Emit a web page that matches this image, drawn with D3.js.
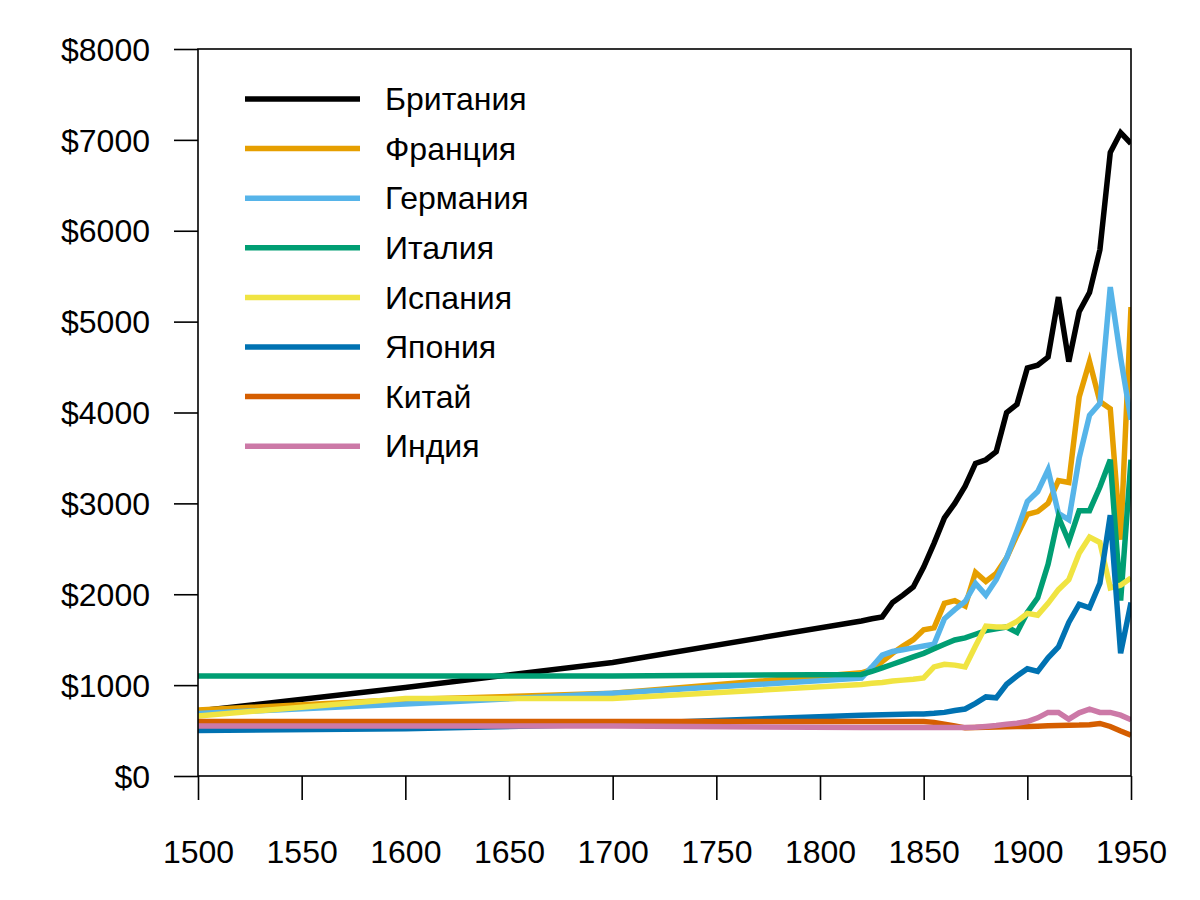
<!DOCTYPE html>
<html>
<head>
<meta charset="utf-8">
<script src="https://cdn.jsdelivr.net/npm/d3@7"></script>
<style>
  body { margin: 0; background: #fff; }
  text { font-family: "Liberation Sans", Arial, sans-serif; fill: #000; }
</style>
</head>
<body>
<svg id="chart" width="1200" height="900"></svg>
<script>
var years = [1500, 1600, 1700, 1820, 1825, 1830, 1835, 1840, 1845, 1850, 1855, 1860, 1865, 1870, 1875,
  1880, 1885, 1890, 1895, 1900, 1905, 1910, 1915, 1920, 1925, 1930, 1935, 1940, 1945, 1950]

var britain = [714, 974, 1250, 1706, 1730, 1750, 1910, 1990, 2080, 2300, 2560, 2840, 3000, 3190, 3440,
  3480, 3570, 4000, 4090, 4490, 4520, 4610, 5270, 4560, 5110, 5320, 5790, 6860, 7080, 6960]
var france = [727, 841, 910, 1135, 1170, 1260, 1350, 1430, 1500, 1610, 1630, 1900, 1930, 1870, 2240,
  2140, 2230, 2400, 2650, 2880, 2910, 3000, 3250, 3230, 4170, 4560, 4120, 4040, 2600, 5160]
var germany = [688, 791, 910, 1077, 1200, 1330, 1370, 1390, 1410, 1430, 1450, 1730, 1830, 1920, 2120,
  1990, 2160, 2400, 2700, 3020, 3130, 3370, 2890, 2820, 3500, 3970, 4100, 5380, 4600, 3920]
var italy = [1100, 1100, 1100, 1117, 1150, 1190, 1230, 1270, 1310, 1350, 1400, 1450, 1497, 1520, 1560,
  1600, 1620, 1640, 1580, 1800, 1960, 2330, 2850, 2580, 2920, 2920, 3180, 3480, 1930, 3480]
var spain = [661, 853, 853, 1008, 1020, 1030, 1045, 1055, 1065, 1079, 1200, 1230, 1220, 1200, 1430,
  1650, 1640, 1640, 1700, 1790, 1770, 1900, 2050, 2160, 2450, 2630, 2570, 2070, 2100, 2180]
var japan = [500, 520, 570, 669, 672, 675, 677, 679, 681, 683, 690, 700, 720, 737, 800,
  870, 860, 1010, 1100, 1180, 1150, 1300, 1420, 1690, 1890, 1850, 2120, 2870, 1350, 1910]
var china = [600, 600, 600, 600, 600, 600, 600, 600, 600, 600, 590, 570, 550, 530, 533,
  536, 539, 542, 544, 545, 548, 552, 555, 558, 560, 565, 578, 545, 495, 448]
var india = [550, 550, 550, 533, 533, 533, 533, 533, 533, 533, 533, 533, 533, 533, 537,
  545, 555, 570, 580, 599, 640, 700, 700, 625, 695, 735, 700, 700, 670, 620]

var names = ['Британия', 'Франция', 'Германия', 'Италия', 'Испания', 'Япония', 'Китай', 'Индия']
var colors = ['#000000', '#E69F00', '#56B4E9', '#009E73', '#F0E442', '#0072B2', '#D55E00', '#CC79A7']
var seriesValues = [britain, france, germany, italy, spain, japan, china, india]

var xTicks = [1500, 1550, 1600, 1650, 1700, 1750, 1800, 1850, 1900, 1950]
var yTicks = [0, 1000, 2000, 3000, 4000, 5000, 6000, 7000, 8000]

var svg = d3.select('#chart')
var m = {left: 198, right: 1131, top: 49, bottom: 776}

var x = d3.scaleLinear().domain([1500, 1950]).range([m.left, m.right])
var y = d3.scaleLinear().domain([0, 8000]).range([m.bottom, m.top])

var series = names.map((n, i) => ({
  name: n,
  color: colors[i],
  points: years.map((yr, j) => ({year: yr, value: seriesValues[i][j]}))
}))

/*
    axes
*/
var yAxis = svg.append('g')
  .attr('transform', `translate(${m.left},0)`)
  .call(d3.axisLeft(y).tickValues(yTicks).tickSize(24).tickPadding(24).tickFormat(d => '$' + d))
var xAxis = svg.append('g')
  .attr('transform', `translate(0,${m.bottom})`)
  .call(d3.axisBottom(x).tickValues(xTicks).tickSize(24).tickPadding(40).tickFormat(d3.format('d')))

;[yAxis, xAxis].forEach(a => {
  a.select('.domain').remove()
  a.selectAll('line').attr('stroke', '#000').attr('stroke-width', 1.6)
  a.selectAll('text').style('font-size', '32px').attr('fill', '#000')
})
yAxis.selectAll('text').attr('dy', '0.35em')

/*
    lines
*/
var line = d3.line()
  .x(d => x(d.year))
  .y(d => y(d.value))

svg.append('defs').append('clipPath').attr('id', 'clip')
  .append('rect')
  .attr('x', m.left).attr('y', m.top)
  .attr('width', m.right - m.left).attr('height', m.bottom - m.top)

svg.append('g')
  .attr('clip-path', 'url(#clip)')
  .selectAll('path')
  .data(series)
  .enter()
  .append('path')
  .attr('d', d => line(d.points))
  .attr('fill', 'none')
  .attr('stroke', d => d.color)
  .attr('stroke-width', 5.5)
  .attr('stroke-linejoin', 'miter')

// frame
svg.append('rect')
  .attr('x', m.left).attr('y', m.top)
  .attr('width', m.right - m.left).attr('height', m.bottom - m.top)
  .attr('fill', 'none')
  .attr('stroke', '#000')
  .attr('stroke-width', 1.6)

/*
    legend
*/
var legend = svg.append('g')
  .selectAll('g')
  .data(series)
  .enter()
  .append('g')
  .attr('transform', (d, i) => `translate(245,${99 + i * 49.6})`)

legend.append('line')
  .attr('x1', 0).attr('x2', 115)
  .attr('stroke', d => d.color)
  .attr('stroke-width', 5.5)

legend.append('text')
  .attr('x', 140)
  .attr('dy', '0.35em')
  .style('font-size', '32px')
  .text(d => d.name)
</script>
</body>
</html>
